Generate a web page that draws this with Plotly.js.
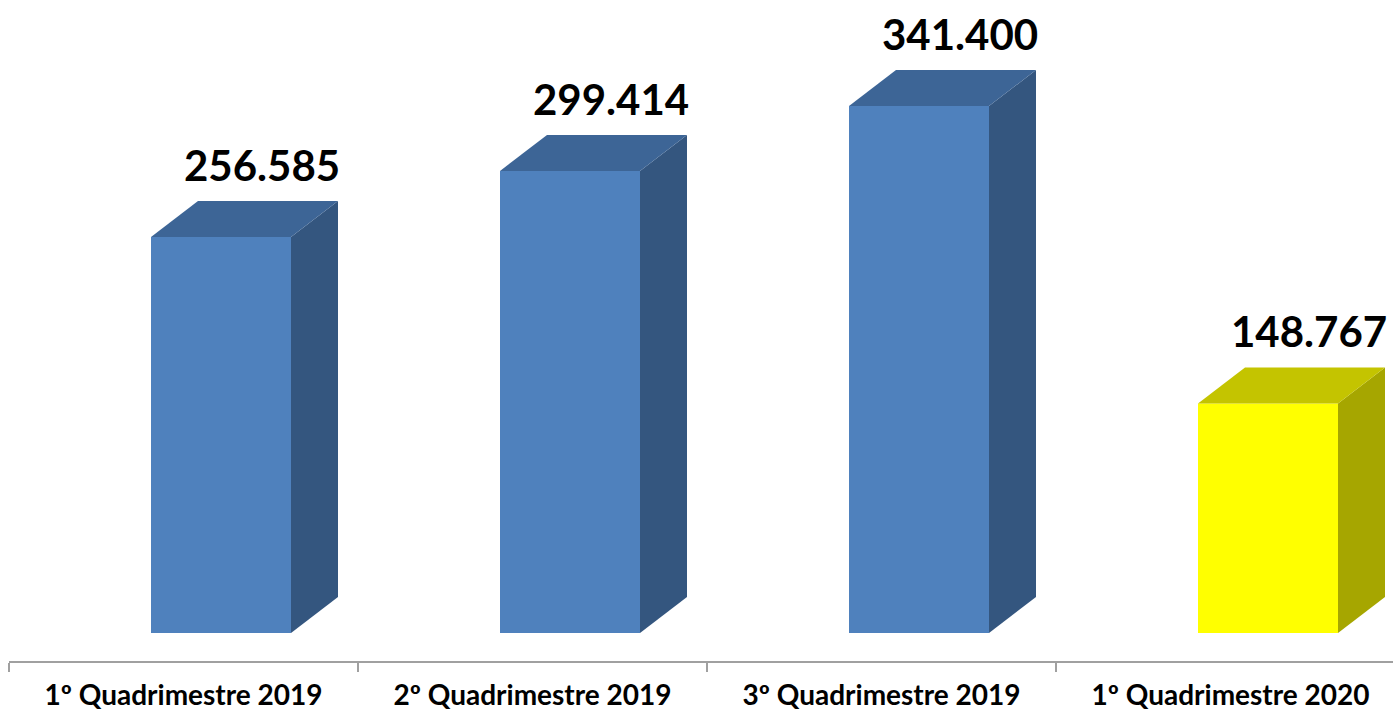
<!DOCTYPE html>
<html>
<head>
<meta charset="utf-8">
<script src="https://cdn.plot.ly/plotly-3.0.1.min.js"></script>
<style>html,body{margin:0;padding:0;background:#fff;}#chart{width:1393px;height:716px;}</style>
</head>
<body>
<div id="chart"></div>
<script>
const categories = ["1º Quadrimestre 2019", "2º Quadrimestre 2019", "3º Quadrimestre 2019", "1º Quadrimestre 2020"];
const values = [256.585, 299.414, 341.400, 148.767];
const valueLabels = ["256.585", "299.414", "341.400", "148.767"];
const frontColors = ["#4F81BD", "#4F81BD", "#4F81BD", "#FFFF00"];
const sideColors = ["#34567F", "#34567F", "#34567F", "#A6A600"];
const topColors = ["#3D6596", "#3D6596", "#3D6596", "#C4C400"];

const pxPerCat = 349;
const pxPerUnit = 1.5434;
const barOffset = -0.5 + 142 / pxPerCat;
const barWidth = 140 / pxPerCat;
const depthX = 47 / pxPerCat;
const depthY = 36 / pxPerUnit;

const xs = categories.map((c, i) => i);
const traces = [];

traces.push({
  type: 'bar', x: xs, y: values, base: 0,
  offset: barOffset, width: barWidth,
  marker: {color: frontColors, line: {width: 0}},
  hoverinfo: 'skip', showlegend: false
});

values.forEach((v, i) => {
  const x0 = i + barOffset, x1 = x0 + barWidth;
  traces.push({
    type: 'scatter', mode: 'lines', fill: 'toself',
    x: [x1, x1 + depthX, x1 + depthX, x1, x1],
    y: [0, depthY, v + depthY, v, 0],
    fillcolor: sideColors[i], line: {width: 0, color: sideColors[i]},
    hoverinfo: 'skip', showlegend: false
  });
  traces.push({
    type: 'scatter', mode: 'lines', fill: 'toself',
    x: [x0, x0 + depthX, x1 + depthX, x1, x0],
    y: [v, v + depthY, v + depthY, v, v],
    fillcolor: topColors[i], line: {width: 0, color: topColors[i]},
    hoverinfo: 'skip', showlegend: false
  });
});

const annotations = values.map((v, i) => ({
  x: i + barOffset + 111 / pxPerCat, y: v + depthY,
  xref: 'x', yref: 'y', text: valueLabels[i], showarrow: false,
  xanchor: 'center', yanchor: 'middle', yshift: 36,
  font: {family: 'Lato, "Liberation Sans", Arial, sans-serif', size: 42, color: '#000', weight: 'bold'}
}));

const plotLeft = 9, plotRight = 1393, axisY = 661, zeroY = 633;
const layout = {
  width: 1393, height: 716,
  margin: {l: plotLeft, r: 1393 - plotRight, t: 0, b: 716 - axisY, pad: 0},
  paper_bgcolor: '#fff', plot_bgcolor: '#fff',
  showlegend: false,
  xaxis: {
    type: 'linear',
    range: [-0.5, -0.5 + (plotRight - plotLeft) / pxPerCat],
    tickmode: 'array', tickvals: xs, ticktext: categories,
    ticks: '', showgrid: false, zeroline: false,
    showline: true, linecolor: '#A0A0A0', linewidth: 2,
    ticklabelstandoff: 8,
    tickfont: {family: 'Lato, "Liberation Sans", Arial, sans-serif', size: 28, color: '#000', weight: 'bold'},
    minor: {tick0: -0.5, dtick: 1, ticks: 'outside', ticklen: 9, tickwidth: 2, tickcolor: '#A0A0A0', showgrid: false},
    fixedrange: true
  },
  yaxis: {
    range: [-(axisY - zeroY) / pxPerUnit, zeroY / pxPerUnit],
    visible: false, showgrid: false, zeroline: false, fixedrange: true
  },
  annotations: annotations
};

Plotly.newPlot('chart', traces, layout, {displayModeBar: false, staticPlot: true});
</script>
</body>
</html>
